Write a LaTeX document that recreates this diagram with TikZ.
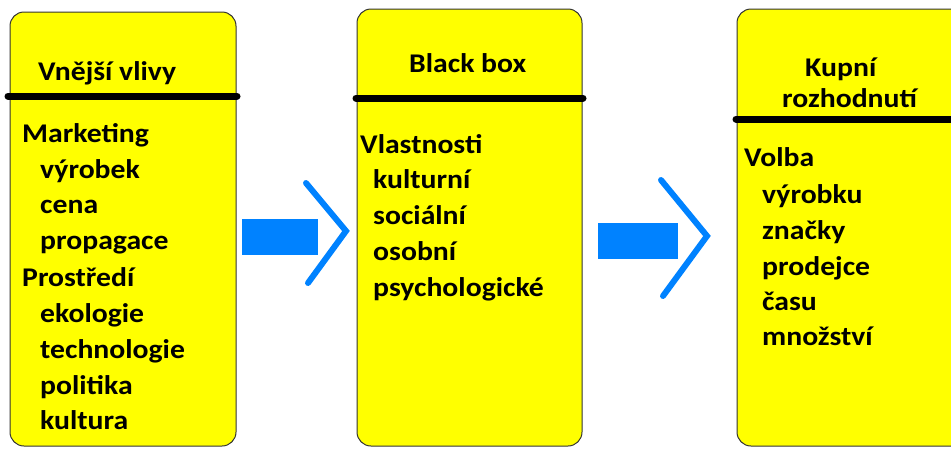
\documentclass[tikz,border=0pt]{standalone}
\usepackage{fontspec}
\setmainfont{Carlito}[FakeStretch=1.1]
\definecolor{boxyellow}{RGB}{255,255,0}
\definecolor{arrowblue}{RGB}{0,130,255}
\begin{document}
\begin{tikzpicture}[x=1pt,y=-1pt,
  panel/.style={draw=black!80,line width=1pt,fill=boxyellow,rounded corners=14pt},
  divider/.style={line width=7pt,line cap=round},
  txt/.style={anchor=base west,inner sep=0pt,font=\fontsize{27}{30}\selectfont\bfseries},
  bar/.style={fill=arrowblue,draw=none},
  chev/.style={draw=arrowblue,line width=6pt,line cap=round,line join=miter}
  ]
\useasboundingbox (0,0) rectangle (951,448);
% panels
\draw[panel] (10,12) rectangle (236,446);
\draw[panel] (357,9) rectangle (582,446);
\draw[panel] (737,9) rectangle (975,446);
% dividers
\coordinate (d1a) at (8,96); \coordinate (d1b) at (237,96);
\coordinate (d2a) at (356,98); \coordinate (d2b) at (583,98);
\coordinate (d3a) at (736,119); \coordinate (d3b) at (960,119);
\draw[divider] (d1a) -- (d1b);
\draw[divider] (d2a) -- (d2b);
\draw[divider] (d3a) -- (d3b);
% headers
\node[txt] (h1) at (38,80) {Vnější vlivy};
\node[txt] (h2) at (409,72) {Black box};
\node[txt] (h3a) at (805,76) {Kupní};
\node[txt] (h3b) at (782,107) {rozhodnutí};
% panel 1
\node[txt] (m) at (22,142) {Marketing};
\node[txt] (m1) at (40,178) {výrobek};
\node[txt] (m2) at (40,213) {cena};
\node[txt] (m3) at (40,249) {propagace};
\node[txt] (p) at (22,286) {Prostředí};
\node[txt] (p1) at (40,322) {ekologie};
\node[txt] (p2) at (40,358) {technologie};
\node[txt] (p3) at (40,394) {politika};
\node[txt] (p4) at (40,429) {kultura};
% panel 2
\node[txt] (v) at (360,153) {Vlastnosti};
\node[txt] (v1) at (373,188) {kulturní};
\node[txt] (v2) at (373,224) {sociální};
\node[txt] (v3) at (373,260) {osobní};
\node[txt] (v4) at (373,296) {psychologické};
% panel 3
\node[txt] (o) at (744,166) {Volba};
\node[txt] (o1) at (762,203) {výrobku};
\node[txt] (o2) at (762,239) {značky};
\node[txt] (o3) at (762,275) {prodejce};
\node[txt] (o4) at (762,310) {času};
\node[txt] (o5) at (762,345) {množství};
% arrows
\fill[bar] (242,219) rectangle (318,255);
\coordinate (c1a) at (306,183); \coordinate (c1b) at (346,231); \coordinate (c1c) at (308,283);
\draw[chev] (c1a) -- (c1b) -- (c1c);
\fill[bar] (598,223) rectangle (678,259);
\coordinate (c2a) at (661,180); \coordinate (c2b) at (707,236); \coordinate (c2c) at (663,296);
\draw[chev] (c2a) -- (c2b) -- (c2c);
\end{tikzpicture}
\end{document}
